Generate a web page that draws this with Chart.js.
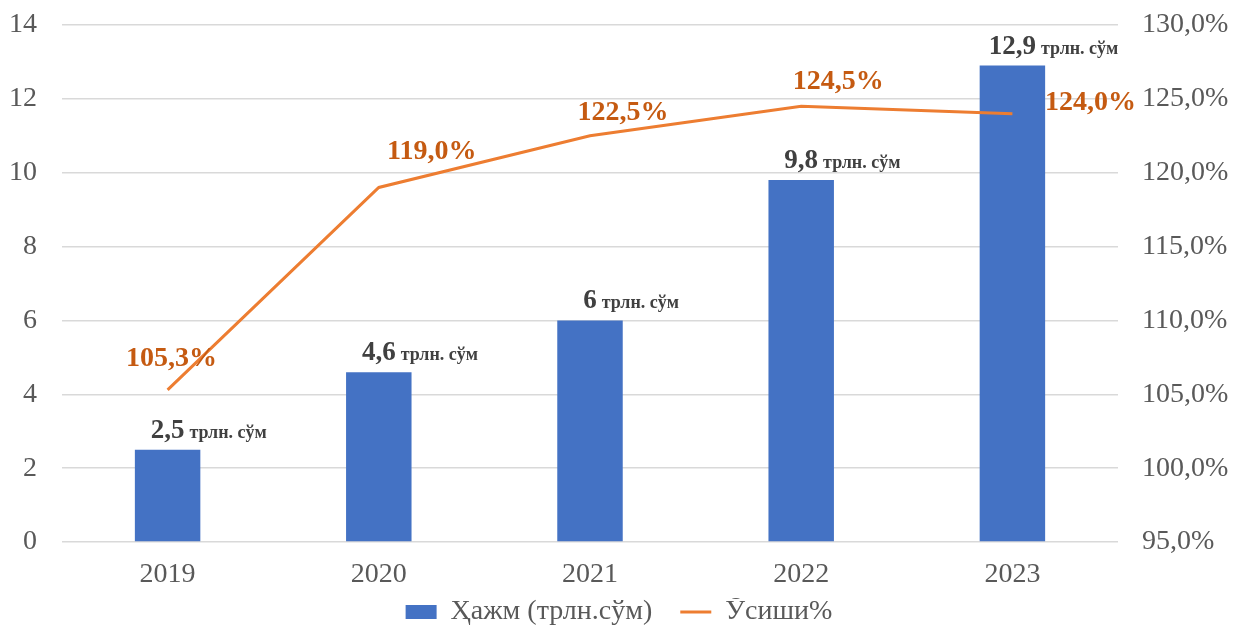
<!DOCTYPE html>
<html>
<head>
<meta charset="utf-8">
<script src="https://cdn.jsdelivr.net/npm/chart.js@4.4.1/dist/chart.umd.min.js"></script>
<style>
  html, body { margin: 0; padding: 0; background: #fff; }
  #wrap { width: 1238px; height: 628px; }
</style>
</head>
<body>
<div id="wrap"><canvas id="c" width="1238" height="628"></canvas></div>
<script>
const years = ["2019", "2020", "2021", "2022", "2023"];
const volume = [2.5, 4.6, 6, 9.8, 12.9];
const growth = [105.3, 119.0, 122.5, 124.5, 124.0];
const volumeLabel = "Ҳажм (трлн.сўм)";
const growthLabel = "Ўсиши%";
const unitText = "трлн. сўм";

// hand placed label offsets (like the original), relative to each point
const growthLabelOffsets = [[4, -31], [53, -36], [33, -23], [37, -24], [78, -11]];

const serif = "'Liberation Serif', 'Times New Roman', serif";
const comma = (v) => String(v).replace(".", ",");

const labelPlugin = {
  id: "valueLabels",
  afterLayout(chart) {
    // push the legend a little lower, closer to the bottom edge
    chart.legend.top += 8;
    chart.legend.bottom += 8;
  },
  afterDatasetsDraw(chart) {
    const ctx = chart.ctx;
    ctx.save();
    ctx.textBaseline = "alphabetic";
    chart.getDatasetMeta(0).data.forEach((bar, i) => {
      const num = comma(volume[i]);
      ctx.font = "bold 27px " + serif;
      const numW = ctx.measureText(num).width;
      const x0 = bar.x - numW / 2;
      const y = bar.y - 12;
      ctx.fillStyle = "#404040";
      ctx.textAlign = "left";
      ctx.fillText(num, x0, y);
      ctx.font = "bold 18px " + serif;
      ctx.fillText(unitText, x0 + numW + 5, y);
    });
    chart.getDatasetMeta(1).data.forEach((pt, i) => {
      const [dx, dy] = growthLabelOffsets[i];
      ctx.font = "bold 28px " + serif;
      ctx.fillStyle = "#C55A11";
      ctx.textAlign = "center";
      ctx.textBaseline = "middle";
      ctx.fillText(growth[i].toFixed(1).replace(".", ",") + "%", pt.x + dx, pt.y + dy);
    });
    ctx.restore();
  }
};

const fitY = (width) => (s) => {
  s.width = width;
  s.paddingTop = 25;
  s.paddingBottom = 0;
};

new Chart(document.getElementById("c"), {
  data: {
    labels: years,
    datasets: [
      {
        type: "bar",
        label: volumeLabel,
        data: volume,
        backgroundColor: "#4472C4",
        barPercentage: 0.31,
        categoryPercentage: 1,
        yAxisID: "y",
        order: 2
      },
      {
        type: "line",
        label: growthLabel,
        data: growth,
        borderColor: "#ED7D31",
        borderWidth: 3,
        pointRadius: 0,
        tension: 0,
        yAxisID: "y1",
        order: 1
      }
    ]
  },
  options: {
    responsive: false,
    animation: false,
    layout: { padding: 0 },
    plugins: {
      tooltip: { enabled: false },
      legend: {
        position: "bottom",
        labels: {
          color: "#595959",
          font: { family: serif, size: 28, lineHeight: 1 },
          usePointStyle: true,
          pointStyleWidth: 31,
          boxHeight: 14,
          padding: 0,
          generateLabels: (chart) => chart.data.datasets.map((ds, i) => ({
            text: i === 0 ? ds.label + "\u2003" : ds.label,
            fillStyle: ds.type === "bar" ? ds.backgroundColor : ds.borderColor,
            strokeStyle: ds.type === "bar" ? ds.backgroundColor : ds.borderColor,
            lineWidth: ds.type === "bar" ? 0 : 3,
            pointStyle: ds.type === "bar" ? "rect" : "line",
            fontColor: "#595959",
            datasetIndex: i
          }))
        }
      }
    },
    scales: {
      x: {
        grid: { display: false },
        border: { display: false },
        ticks: { color: "#595959", font: { family: serif, size: 28 }, padding: 8 },
        afterFit: (s) => { s.height = 48; }
      },
      y: {
        position: "left",
        min: 0,
        max: 14,
        ticks: { stepSize: 2, color: "#595959", font: { family: serif, size: 28 }, padding: 25 },
        grid: { color: "#D9D9D9", lineWidth: 1.5, drawTicks: false },
        border: { display: false },
        afterFit: fitY(62)
      },
      y1: {
        position: "right",
        min: 95,
        max: 130,
        ticks: {
          stepSize: 5,
          color: "#595959",
          font: { family: serif, size: 28 },
          padding: 24,
          callback: (v) => v.toFixed(1).replace(".", ",") + "%"
        },
        grid: { display: false, drawTicks: false },
        border: { display: false },
        afterFit: fitY(120)
      }
    }
  },
  plugins: [labelPlugin]
});
</script>
</body>
</html>
